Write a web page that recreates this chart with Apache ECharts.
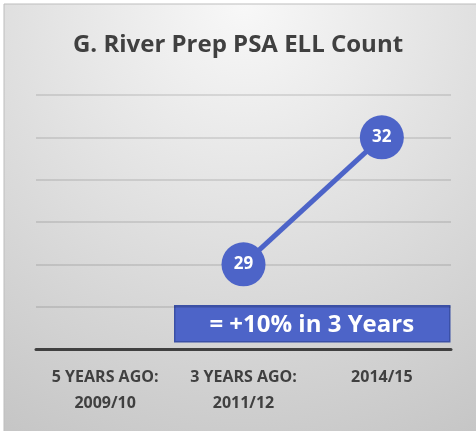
<!DOCTYPE html>
<html><head><meta charset="utf-8">
<script src="https://cdn.jsdelivr.net/npm/echarts@6/dist/echarts.min.js"></script>
<style>html,body{margin:0;padding:0;background:#fff}#c{width:476px;height:431px}</style>
</head><body><div id="c"></div>
<script>
const titleText = 'G. River Prep PSA ELL Count';
const categories = ['5 YEARS AGO:\n2009/10', '3 YEARS AGO:\n2011/12', '2014/15'];
const ellCount = [null, 29, 32];
const yMin = 27, yMax = 33, yStep = 1;
const noteText = '= +10% in 3 Years';

const FONT = '"Open Sans", sans-serif';
const BLUE = '#4d64c8';
const chart = echarts.init(document.getElementById('c'), null, {renderer: 'canvas'});
chart.setOption({
  backgroundColor: '#ffffff',
  animation: false,
  graphic: [
    {type: 'rect', z: -10, shape: {x: 4, y: 4, width: 480, height: 440},
     style: {fill: {type: 'radial', x: 0.5, y: 0, r: 1.1,
       colorStops: [{offset: 0, color: '#f8f8f8'}, {offset: 1, color: '#c6c6c6'}], global: false},
       stroke: '#bdbdbd', lineWidth: 1}},
    {type: 'group', z: 100, left: 174, top: 305, children: [
      {type: 'rect', shape: {x: 0, y: 0, width: 275, height: 36},
       style: {fill: BLUE, stroke: '#3b50a6', lineWidth: 1.5}},
      {type: 'text', x: 137, y: 19,
       style: {text: noteText, fill: '#ffffff', font: 'bold 24px ' + FONT, align: 'center', verticalAlign: 'middle'}}
    ]}
  ],
  title: {text: titleText, left: 'center', top: 28,
    textStyle: {fontFamily: FONT, fontWeight: 'bold', fontSize: 24, color: '#404040'}},
  grid: {left: 36, right: 25, top: 95, bottom: 82},
  xAxis: {type: 'category', data: categories, boundaryGap: true,
    axisLine: {lineStyle: {color: '#404040', width: 3}},
    axisTick: {show: false},
    axisLabel: {interval: 0, hideOverlap: false, fontFamily: FONT, fontWeight: 'bold', fontSize: 16, color: '#404040', lineHeight: 26, margin: 15}},
  yAxis: {type: 'value', min: yMin, max: yMax, interval: yStep,
    axisLabel: {show: false}, axisLine: {show: false}, axisTick: {show: false},
    splitLine: {lineStyle: {color: 'rgba(0,0,0,0.1)', width: 2}}},
  series: [{type: 'line', data: ellCount, connectNulls: false,
    symbol: 'circle', symbolSize: 44,
    lineStyle: {color: BLUE, width: 5},
    itemStyle: {color: BLUE},
    label: {show: true, position: 'inside', color: '#fff', fontFamily: FONT, fontWeight: 'bold', fontSize: 17}
  }]
});
</script></body></html>
